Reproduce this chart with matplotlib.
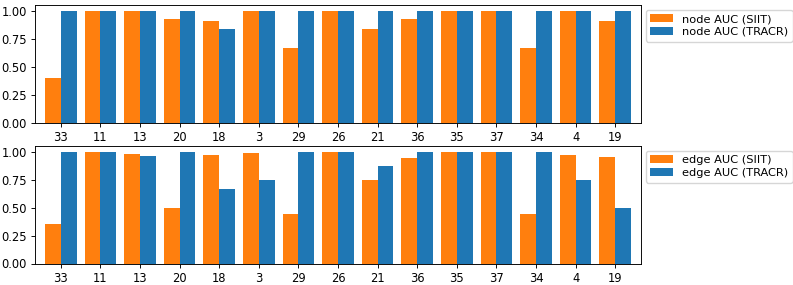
import matplotlib
matplotlib.use("Agg")
import matplotlib.pyplot as plt
import numpy as np

tasks = ["33", "11", "13", "20", "18", "3", "29", "26", "21", "36", "35", "37", "34", "4", "19"]
node_siit = [0.40, 1.0, 1.0, 0.923, 0.909, 1.0, 0.667, 1.0, 0.833, 0.923, 1.0, 1.0, 0.667, 1.0, 0.905]
node_tracr = [1.0, 1.0, 1.0, 1.0, 0.833, 1.0, 1.0, 1.0, 1.0, 1.0, 1.0, 1.0, 1.0, 1.0, 1.0]
edge_siit = [0.35, 1.0, 0.975, 0.50, 0.97, 0.985, 0.44, 1.0, 0.75, 0.94, 1.0, 1.0, 0.44, 0.97, 0.95]
edge_tracr = [1.0, 1.0, 0.965, 1.0, 0.667, 0.75, 1.0, 1.0, 0.875, 1.0, 1.0, 1.0, 1.0, 0.75, 0.50]

orange = "#ff7f0e"
blue = "#1f77b4"

s = 0.83
plt.rcParams.update({
    "font.size": 10 * s,
    "xtick.major.size": 3.5 * s,
    "ytick.major.size": 3.5 * s,
    "xtick.major.width": 0.8 * s,
    "ytick.major.width": 0.8 * s,
    "xtick.major.pad": 3.5 * s,
    "ytick.major.pad": 3.5 * s,
    "axes.linewidth": 0.8 * s,
})

fig = plt.figure(figsize=(7.93, 2.85), dpi=100)
ax1 = fig.add_axes([35/793, 1 - 123/285, 606/793, 118/285])
ax2 = fig.add_axes([35/793, 1 - 263.5/285, 606/793, 117.5/285])

x = np.arange(len(tasks))
w = 0.4
for ax, sv, tv, lbl in [(ax1, node_siit, node_tracr, "node"), (ax2, edge_siit, edge_tracr, "edge")]:
    ax.bar(x - w/2, sv, width=w, color=orange, label=f"{lbl} AUC (SIIT)")
    ax.bar(x + w/2, tv, width=w, color=blue, label=f"{lbl} AUC (TRACR)")
    ax.set_xticks(x)
    ax.set_xticklabels(tasks)
    ax.set_xlim(-0.65, len(tasks) - 1 + 0.65)
    ax.set_ylim(0, 1.05)
    ax.set_yticks([0, 0.25, 0.5, 0.75, 1.0])
    ax.set_yticklabels(["0.00", "0.25", "0.50", "0.75", "1.00"])
    ax.legend(loc="upper left", bbox_to_anchor=(1.0, 1.0), fontsize=8.2,
              labelspacing=0.25, borderaxespad=0.4)

fig.savefig("out.png", dpi=100)
